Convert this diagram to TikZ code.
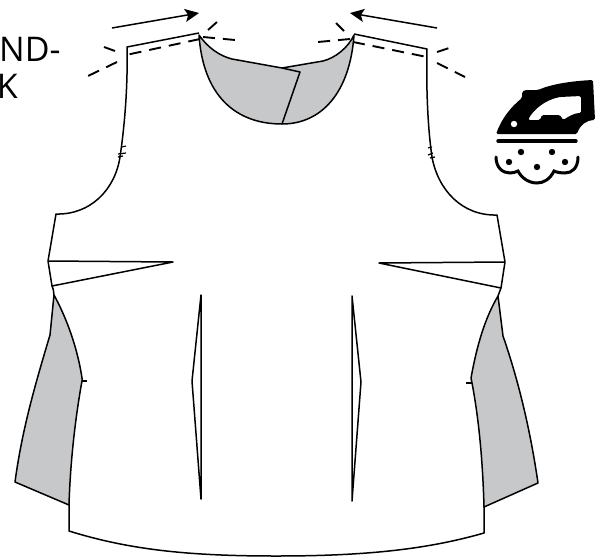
\documentclass[tikz,border=0pt]{standalone}
\usepackage{fontspec}
\setmainfont{Open Sans}
\usetikzlibrary{arrows.meta}
\definecolor{facing}{HTML}{C7C8CA}
\definecolor{inkblk}{HTML}{000000}

\begin{document}
\begin{tikzpicture}[
  x=1pt, y=-1pt,
  >={Stealth[length=14pt, width=13pt, inset=3pt]},
  seam/.style={draw=inkblk, line width=1.5pt, line join=round},
  wrong/.style={seam, fill=facing},
  fold/.style={draw=inkblk, line width=1.9pt, dash pattern=on 12pt off 8pt},
  tick/.style={draw=inkblk, line width=1.2pt},
  arr/.style={->, draw=inkblk, line width=1.5pt},
  steam/.style={fill=inkblk, radius=3.2},
  caption/.style={font=\fontsize{34}{39}\selectfont, text=inkblk, inner sep=0pt},
]
\useasboundingbox (0,0) rectangle (605,557);

% =============================================
% Clipped label
% =============================================
\node[caption, anchor=base west] (bandtext) at (-1,61) {ND-};
\node[caption, anchor=base east] (necktext) at (18,98) {K};

% =============================================
% Neck facing
% =============================================
\coordinate (neckl) at (199,35);
\coordinate (neckr) at (354,35);
\coordinate (neckb) at (282,124);
\coordinate (neckm) at (282,68);

\draw[wrong] (neckl) .. controls (203,95) and (235,124) .. (neckb)
  .. controls (322,124) and (350,92) .. (neckr)
  .. controls (348,48) and (335,58) .. (323,61) -- (neckm) -- (232,59)
  .. controls (220,56) and (208,48) .. (neckl) -- cycle;
\draw[seam] (neckm) -- (300,72) -- (neckb);

% =============================================
% Side panels
% =============================================
\draw[wrong] (54,295) -- (50,335) .. controls (35,385) and (22,430) .. (15,482)
  -- (69,505) .. controls (70,470) and (74,425) .. (82,381) -- (82,378)
  .. controls (77,345) and (65,315) .. (54,295);
\draw[wrong] (498,296) -- (503,336) .. controls (520,385) and (531,435) .. (538,483)
  -- (484,507) .. controls (483,470) and (480,425) .. (472,383) -- (471,378)
  .. controls (477,345) and (485,318) .. (498,296);

% =============================================
% Bodice outline
% =============================================
\draw[seam] (199,33) -- (127,47) .. controls (128,90) and (124,130) .. (120,157)
  .. controls (115,190) and (90,215) .. (56,214) -- (48,261) -- (52,286)
  .. controls (53,288) and (54,292) .. (54,295);
\draw[seam] (69,505) -- (69,531) .. controls (130,550) and (190,556) .. (276,556)
  .. controls (362,556) and (425,550) .. (484,533) -- (484,507);
\draw[seam] (354,34) -- (427,49) .. controls (426,90) and (428,130) .. (432,157)
  .. controls (438,190) and (462,216) .. (497,215) -- (505,262) -- (501,288) -- (498,296);

% Darts
\draw[seam] (48,261) -- (173,262) -- (52,286);
\draw[seam] (505,262) -- (379,263) -- (501,288);
\draw[seam] (201,295) -- (192,381) -- (201,499) -- cycle;
\draw[seam] (352,296) -- (361,382) -- (352,501) -- cycle;

% Notches
\draw[tick] (122,147) -- (126,146) (118,154) -- (126,153) (118,157) -- (123,156);
\draw[tick] (428,148) -- (432,147) (428,155) -- (433,153) (430,158) -- (435,157);
\draw[tick] (82,381) -- (87,381);
\draw[tick] (466,383) -- (472,383);

% =============================================
% Shoulder fold lines
% =============================================
\draw[fold] (200,39) -- (126,55) (117,62) -- (88,76) (115,51) -- (104,47)
  (208,30) -- (217,22) (203,37) -- (235,40);
\draw[fold] (353,42) -- (427,57) (437,63) -- (465,77) (437,52) -- (449,48)
  (344,31) -- (336,23) (350,39) -- (318,42);

% Arrows
\coordinate (arrla) at (112,28);
\coordinate (arrlb) at (199,13);
\coordinate (arrra) at (437,28);
\coordinate (arrrb) at (350,13);
\draw[arr] (arrla) -- (arrlb);
\draw[arr] (arrra) -- (arrrb);

% =============================================
% Iron symbol
% =============================================
\fill[inkblk, even odd rule, rounded corners=1.5pt] (496,134) .. controls (502,118) and (511,107) .. (522,98)
  -- (522,92) -- (525,90) -- (538,90) .. controls (552,84) and (572,81) .. (593,80)
  -- (595,120) .. controls (587,120) and (580,125) .. (577,134) -- cycle
  (528,120) .. controls (533,110) and (545,100) .. (560,97) -- (581,96) -- (581,113)
  .. controls (574,113) and (568,117) .. (563,120) -- (560,115) -- (542,115) -- (540,120) -- cycle;
\fill[white] (514,124) circle[radius=3.2];
\draw[inkblk, line width=3.4pt, line cap=round] (498,141) -- (576,141);
\foreach \sx/\sy in {521/152, 552/152, 509/162, 565/162, 537/167}
  \fill[steam] (\sx,\sy) circle;
\draw[inkblk, line width=3pt, line cap=round] (496,157) .. controls (496,168) and (503,173) .. (510,173)
  .. controls (513,173) and (516,172) .. (518,171) .. controls (522,179) and (530,183) .. (537,183)
  .. controls (544,183) and (550,179) .. (554,171) .. controls (556,172) and (560,173) .. (565,173)
  .. controls (572,173) and (578,168) .. (578,157);

\end{tikzpicture}
\end{document}
